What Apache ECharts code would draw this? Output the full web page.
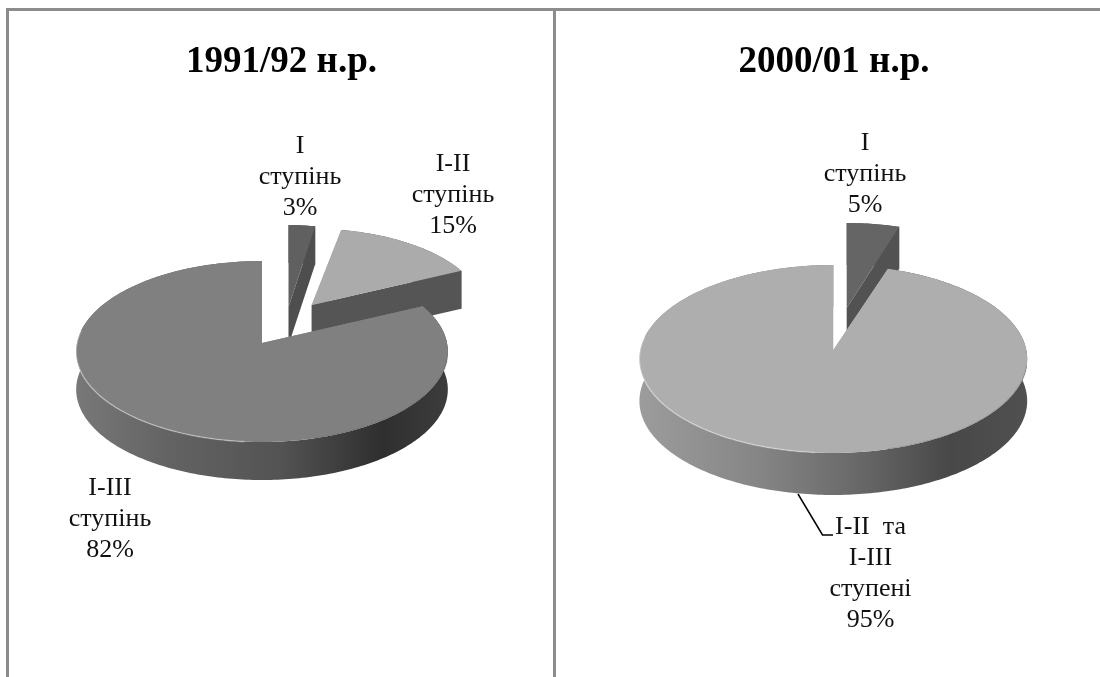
<!DOCTYPE html>
<html>
<head>
<meta charset="utf-8">
<style>
    html, body { margin: 0; padding: 0; background: #fff; }
    #chart { width: 1100px; height: 677px; }
</style>
<script src="https://cdn.jsdelivr.net/npm/echarts@6/dist/echarts.min.js"></script>
</head>
<body>
<div id="chart"></div>
<script>
const leftTitle = "1991/92 н.р.";
const leftNames = ["I\nступінь", "I-II\nступінь", "I-III\nступінь"];
const leftValues = [3, 15, 82];

const rightTitle = "2000/01 н.р.";
const rightNames = ["I\nступінь", "I-II  та\nI-III\nступені"];
const rightValues = [5, 95];

const serif = '"Liberation Serif", "Times New Roman", serif';
const borderColor = "#8c8c8c";

function wallGradient(stops) {
    return new echarts.graphic.LinearGradient(0, 0, 1, 0, stops.map((c) => ({
        offset: c[0],
        color: c[1]
    })));
}

// pie geometry: apex, radii, perspective k, wall depth
const leftPie = {
    cx: 262, cy: 343, rx: 185, ry: 89.7, k: 0.094, depth: 38,
    slices: [
        { dx: 26.5, dy: -36, sx: 0.84, sy: 1, top: "#606060", wall: "#4e4e4e", label: [300, 177] },
        { dx: 49.7, dy: -38, sx: 0.93, sy: 0.93, top: "#ababab", wall: "#555555", label: [453, 195] },
        {
            dx: 0, dy: 0, sx: 1, sy: 1, top: "#808080", label: [110, 519],
            wall: wallGradient([[0, "#787878"], [0.25, "#636363"], [0.55, "#535353"], [0.82, "#2f2f2f"], [1, "#3c3c3c"]])
        }
    ]
};
const rightPie = {
    cx: 833.3, cy: 350, rx: 193, ry: 93.1, k: 0.0957, depth: 42,
    slices: [
        { dx: 13.4, dy: -42, sx: 0.96, sy: 1, top: "#656565", wall: "#525252", label: [865, 174] },
        {
            dx: 0, dy: 0, sx: 1, sy: 1, top: "#aeaeae", label: [870.5, 573.5],
            leader: [[798, 494], [822.5, 535], [833, 535]],
            wall: wallGradient([[0, "#9c9c9c"], [0.3, "#868686"], [0.55, "#6a6a6a"], [0.8, "#484848"], [1, "#505050"]])
        }
    ]
};

function pieSeries(pie, names, values) {
    const total = values.reduce((a, b) => a + b, 0);

    // phi: degrees clockwise from 12 o'clock
    function project(slice, phi, drop) {
        const a = phi * Math.PI / 180;
        const u = Math.sin(a);
        const v = -Math.cos(a);
        const d = 1 - pie.k * v;
        return [
            pie.cx + slice.dx + slice.sx * pie.rx * u / d,
            pie.cy + slice.dy + slice.sy * pie.ry * v / d + drop
        ];
    }

    function arc(slice, from, to, drop) {
        const pts = [];
        const steps = Math.max(2, Math.ceil(Math.abs(to - from)));
        for (let i = 0; i <= steps; i++) {
            pts.push(project(slice, from + (to - from) * i / steps, drop));
        }
        return pts;
    }

    function renderItem(params, api) {
        const i = params.dataIndex;
        const slice = pie.slices[i];
        const start = values.slice(0, i).reduce((a, b) => a + b, 0) / total * 360;
        const end = start + api.value(0) / total * 360;
        const apex = [pie.cx + slice.dx, pie.cy + slice.dy];
        const apexLow = [apex[0], apex[1] + pie.depth];
        const children = [];

        function polygon(points, fill) {
            children.push({ type: "polygon", shape: { points }, style: { fill, stroke: null } });
        }

        // cut faces, rim wall, then the top face over them
        polygon([apex, project(slice, start, 0), project(slice, start, pie.depth), apexLow], slice.top);
        polygon([apex, project(slice, end, 0), project(slice, end, pie.depth), apexLow],
            typeof slice.wall === "string" ? slice.wall : "#555555");
        polygon(arc(slice, start, end, 0).concat(arc(slice, end, start, pie.depth)), slice.wall);
        polygon([apex].concat(arc(slice, start, end, 0)), slice.top);

        if (end - start > 180) {
            children.push({
                type: "polyline",
                shape: { points: arc(slice, 185, 278, 0) },
                style: { stroke: "rgba(255,255,255,0.35)", lineWidth: 1.5, fill: null }
            });
            children.push({
                type: "polyline",
                shape: { points: arc(slice, 100, 165, 0) },
                style: { stroke: "rgba(60,60,60,0.2)", lineWidth: 1.5, fill: null }
            });
        }

        if (slice.leader) {
            children.push({
                type: "polyline",
                shape: { points: slice.leader },
                style: { stroke: "#000", lineWidth: 1.5, fill: null }
            });
        }

        children.push({
            type: "text",
            z2: 10,
            style: {
                text: names[i] + "\n" + api.value(0) + "%",
                x: slice.label[0],
                y: slice.label[1],
                align: "center",
                verticalAlign: "middle",
                font: "26px " + serif,
                lineHeight: 31,
                fill: "#111"
            }
        });

        return { type: "group", children };
    }

    return {
        type: "custom",
        coordinateSystem: "none",
        silent: true,
        data: values.map((v, i) => ({ name: names[i], value: [v] })),
        renderItem
    };
}

const chart = echarts.init(document.getElementById("chart"), null, { renderer: "canvas" });

chart.setOption({
    animation: false,
    backgroundColor: "#ffffff",
    title: [
        {
            text: leftTitle, left: 276.5, top: 57, textAlign: "center", textVerticalAlign: "middle",
            textStyle: { fontFamily: serif, fontSize: 37, fontWeight: "bold", color: "#000" }
        },
        {
            text: rightTitle, left: 829, top: 57, textAlign: "center", textVerticalAlign: "middle",
            textStyle: { fontFamily: serif, fontSize: 37, fontWeight: "bold", color: "#000" }
        }
    ],
    graphic: [
        { type: "rect", shape: { x: 6, y: 8, width: 1094, height: 3 }, style: { fill: borderColor } },
        { type: "rect", shape: { x: 6, y: 8, width: 3, height: 669 }, style: { fill: borderColor } },
        { type: "rect", shape: { x: 553, y: 8, width: 3, height: 669 }, style: { fill: borderColor } }
    ],
    series: [
        pieSeries(leftPie, leftNames, leftValues),
        pieSeries(rightPie, rightNames, rightValues)
    ]
});
</script>
</body>
</html>
